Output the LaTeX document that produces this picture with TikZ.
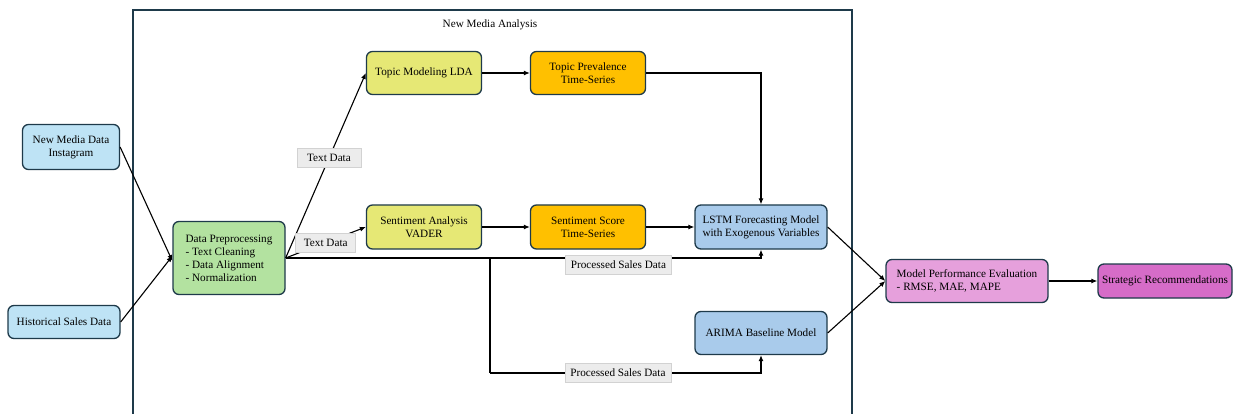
\documentclass[tikz,border=0pt]{standalone}
\usepackage{fontspec}
\setmainfont{Liberation Serif}
\usepackage{xcolor}
\usepackage{tikz}
\usetikzlibrary{arrows.meta, positioning}

\definecolor{edgec}{HTML}{1E3A4A}
\definecolor{blueL}{HTML}{BEE3F5}
\definecolor{greenP}{HTML}{B3E2A0}
\definecolor{yellowP}{HTML}{E6E875}
\definecolor{orangeP}{HTML}{FFC000}
\definecolor{blueM}{HTML}{A9CBEB}
\definecolor{pinkL}{HTML}{E6A0DC}
\definecolor{pinkD}{HTML}{D66CC8}

\tikzset{
  box/.style={rectangle, rounded corners=6pt, draw=edgec, line width=1.3pt, align=center, inner sep=2pt},
  lbl/.style={rectangle, fill=gray!15, draw=gray!35, line width=0.8pt, inner sep=2pt, minimum height=19pt},
  arr/.style={-{Latex[length=6pt,width=5pt]}, line width=1.1pt}
}

\begin{document}
\begin{tikzpicture}[x=1pt, y=-1pt, font=\fontsize{11.2}{13}\selectfont]
  \useasboundingbox (0,0) rectangle (1234,414);
  \draw[edgec, line width=1.4pt] (133,420) -- (133,10) -- (852,10) -- (852,420);
  \node (title) at (490,25) {New Media Analysis};

  \node[box, fill=blueL, minimum width=97pt, minimum height=45pt] (NMD) at (71,147) {New Media Data\\Instagram};
  \node[box, fill=blueL, minimum width=112pt, minimum height=33pt] (HSD) at (64,322) {Historical Sales Data};
  \node[box, fill=greenP, minimum width=112pt, minimum height=73pt, align=left] (Pre) at (229,258) {Data Preprocessing\\- Text Cleaning\\- Data Alignment\\- Normalization};
  \node[box, fill=yellowP, minimum width=115pt, minimum height=43pt] (LDA) at (424,73) {Topic Modeling LDA};
  \node[box, fill=orangeP, minimum width=115pt, minimum height=43pt] (TPS) at (588,73) {Topic Prevalence\\Time-Series};
  \node[box, fill=yellowP, minimum width=115pt, minimum height=44pt] (VADER) at (424,227) {Sentiment Analysis\\VADER};
  \node[box, fill=orangeP, minimum width=115pt, minimum height=44pt] (SSS) at (588,227) {Sentiment Score\\Time-Series};
  \node[box, fill=blueM, minimum width=132pt, minimum height=44pt] (LSTM) at (761,227) {LSTM Forecasting Model\\with Exogenous Variables};
  \node[box, fill=blueM, minimum width=132pt, minimum height=43pt] (ARIMA) at (761,333) {ARIMA Baseline Model};
  \node[box, fill=pinkL, minimum width=162pt, minimum height=43pt, align=left] (Eval) at (967,281) {Model Performance Evaluation\\- RMSE, MAE, MAPE};
  \node[box, fill=pinkD, minimum width=134pt, minimum height=34pt] (Strat) at (1165,281) {Strategic Recommendations};

  \coordinate (br) at (490,258);
  \coordinate (bl) at (490,373);

  \draw[arr] (NMD.east) -- ([yshift=-3pt]Pre.west);
  \draw[arr] (HSD.east) -- ([yshift=2pt]Pre.west);
  \draw[arr] (Pre.east) -- node[lbl, pos=0.54, minimum width=64pt] {Text Data} (LDA.west);
  \draw[arr] (Pre.east) -- node[lbl, minimum width=60pt] {Text Data} (VADER.west);
  \draw[arr] (LDA) -- (TPS);
  \draw[arr] (VADER) -- (SSS);
  \draw[arr] (SSS) -- (LSTM);
  \draw[arr] (TPS.east) -| (LSTM.north);
  \draw[arr] (Pre.east) -| node[lbl, pos=0.35, yshift=-7pt, minimum width=106pt] {Processed Sales Data} (LSTM.south);
  \draw[line width=1.1pt] (br) -- (bl);
  \draw[arr] (bl) -| node[lbl, pos=0.236, minimum width=106pt] {Processed Sales Data} (ARIMA.south);
  \draw[arr] (LSTM.east) -- (Eval.west);
  \draw[arr] (ARIMA.east) -- (Eval.west);
  \draw[arr] (Eval) -- (Strat);
\end{tikzpicture}
\end{document}
